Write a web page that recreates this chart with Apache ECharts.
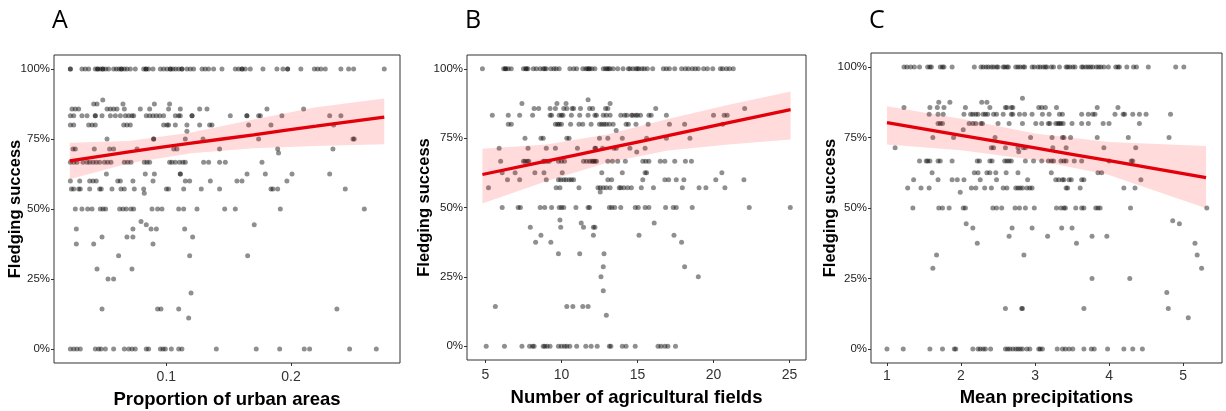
<!DOCTYPE html>
<html>
<head>
<meta charset="utf-8">
<script src="https://cdn.jsdelivr.net/npm/echarts@6/dist/echarts.min.js"></script>
<style>
html, body { margin: 0; padding: 0; background: #fff; }
#chart { width: 1226px; height: 411px; }
</style>
</head>
<body>
<div id="chart"></div>
<script>
// Each row: [fledging success %, [x values of the nests at that level]]
const urbanRows = [
    [100, [0.023,0.023,0.0323,0.035,0.0377,0.043,0.0449,0.0449,0.047,0.049,0.049,0.0513,0.0537,0.0577,0.0599,0.062,0.064,0.064,0.0663,0.0684,0.0711,0.0751,0.0818,0.0837,0.0837,0.0858,0.0893,0.0952,0.0978,0.1005,0.1032,0.1032,0.1053,0.1075,0.1099,0.1125,0.1125,0.1165,0.1192,0.1219,0.1286,0.1312,0.1339,0.1379,0.1446,0.1553,0.158,0.1607,0.1607,0.1633,0.1673,0.1775,0.1887,0.1935,0.1973,0.1973,0.2079,0.2187,0.2213,0.224,0.2275,0.24,0.2462,0.2502,0.2748]],
    [88.9, [0.049]],
    [87.5, [0.0417,0.0444,0.0652,0.0904,0.1026]],
    [85.7, [0.0243,0.027,0.0297,0.0524,0.0551,0.0577,0.0604,0.0663,0.0791,0.0866,0.1018,0.1112,0.1267,0.1326,0.1807,0.2101]],
    [83.3, [0.023,0.0257,0.0323,0.0364,0.043,0.043,0.0484,0.0551,0.0591,0.0631,0.0671,0.0698,0.0724,0.0738,0.0839,0.0866,0.0893,0.092,0.0947,0.0978,0.1072,0.1099,0.1112,0.1206,0.1206,0.1513,0.1646,0.1646,0.174,0.1754,0.1927,0.231,0.24]],
    [80, [0.023,0.0257,0.0377,0.0404,0.043,0.0658,0.0684,0.0711,0.0978,0.1005,0.1018,0.1072,0.1165,0.1267,0.1347,0.1366,0.166,0.1839,0.2342]],
    [77.8, [0.1165]],
    [75, [0.0524,0.0898,0.0898,0.1152,0.1294,0.174,0.2497,0.2507]],
    [71.4, [0.0251,0.027,0.0422,0.0545,0.0577,0.0765,0.1059,0.1085,0.1427,0.1893,0.2336]],
    [70, [0.19]],
    [66.7, [0.023,0.0257,0.0283,0.0331,0.0364,0.0385,0.0412,0.0438,0.0465,0.0503,0.0529,0.0556,0.0663,0.069,0.0716,0.0823,0.0845,0.0866,0.1026,0.1045,0.1072,0.1106,0.1133,0.1152,0.1299,0.1339,0.1427,0.1473,0.1767]],
    [62.5, [0.0519,0.0831,0.0904,0.1112,0.1112,0.1647,0.1794,0.2008,0.231]],
    [60, [0.023,0.0305,0.0385,0.0412,0.0438,0.061,0.0631,0.0732,0.0893,0.1152,0.1187,0.1353,0.1566,0.1607,0.1967]],
    [57.1, [0.0238,0.0257,0.0297,0.031,0.0385,0.0465,0.0478,0.0564,0.0636,0.0663,0.0743,0.0818,0.1,0.1018,0.1139,0.128,0.1427,0.1839,0.1855,0.1893,0.2435]],
    [55.6, [0.0823]],
    [50, [0.027,0.0323,0.0369,0.0404,0.047,0.0492,0.0513,0.0625,0.0652,0.0679,0.0716,0.0738,0.0885,0.093,0.0965,0.1099,0.1139,0.1246,0.1468,0.1553,0.1914,0.2588]],
    [45.5, [0.0797]],
    [44.4, [0.0839,0.1705]],
    [42.9, [0.0278,0.0732,0.0877,0.092,0.1147]],
    [40, [0.0484,0.0684,0.0732,0.1211]],
    [37.5, [0.0278,0.0417,0.0893]],
    [33.3, [0.0617,0.1187,0.1652]],
    [28.6, [0.0444,0.0724]],
    [25, [0.0532,0.0577]],
    [20, [0.1198]],
    [14.3, [0.0484,0.093,0.0957,0.1099,0.2368]],
    [11.1, [0.1179]],
    [0, [0.023,0.0257,0.0283,0.031,0.043,0.0457,0.0476,0.0511,0.0577,0.0663,0.0698,0.0724,0.0751,0.0839,0.0858,0.0952,0.0973,0.0992,0.104,0.1099,0.1125,0.1401,0.1721,0.1909,0.2106,0.2149,0.247,0.2684]]
];

const fieldRows = [
    [100, [4.8,6.2,6.3,6.35,6.5,6.7,7.5,7.65,7.7,7.8,8.15,8.35,8.6,8.8,8.9,9.0,9.3,9.5,9.65,9.85,10.55,10.8,11.0,11.4,11.6,11.7,11.8,11.85,12.0,12.2,12.75,12.9,13.0,13.1,13.2,13.4,13.7,14.05,14.4,14.5,14.7,14.9,15.0,15.1,15.3,15.45,15.65,16.0,16.7,16.9,17.1,17.45,17.9,18.15,18.35,18.6,18.8,19.0,19.35,19.6,19.95,20.45,20.6,20.85,21.05,21.3]],
    [88.9, [11.75]],
    [87.5, [7.4,9.7,10.3,13.2]],
    [85.7, [8.2,8.5,9.25,9.6,10.15,10.35,10.7,10.8,11.25,11.85,12.05,12.9,13.05,16.2,22.05]],
    [83.3, [5.45,6.5,7.25,8.1,9.25,9.35,9.85,10.0,10.1,10.65,11.2,11.75,12.2,12.3,12.75,12.95,13.2,13.9,14.15,14.3,14.6,14.7,14.9,15.0,15.2,15.75,15.9,16.9,20.0,20.7,20.9]],
    [80, [6.5,6.7,9.6,9.75,9.85,10.0,10.6,11.15,11.4,11.95,12.5,12.65,12.8,12.95,13.15,13.4,14.25,14.4,14.9,15.7,17.1,18.1,20.6]],
    [77.8, [13.6]],
    [75, [7.6,8.65,8.8,10.35,10.5,12.5,13.05,14.0,15.6,16.9,18.45]],
    [71.4, [5.9,7.8,9.0,9.6,11.05,12.2,12.25,12.7,13.45,13.6,14.5,15.5]],
    [70, [14.95]],
    [66.7, [6.0,7.5,7.6,7.75,7.85,8.8,8.9,9.05,9.2,9.8,10.0,10.2,11.45,11.65,11.85,12.0,12.1,12.2,12.3,13.05,13.35,13.7,14.2,15.35,15.55,15.75,16.5,16.8,17.45,18.15,18.55]],
    [62.5, [6.1,6.95,8.25,8.85,10.05,12.65,14.0,15.5,15.6,20.55]],
    [60, [6.45,7.25,9.0,9.8,9.95,10.15,10.3,10.5,10.65,10.8,13.05,13.3,15.35,16.8,17.05,17.55,18.05,20.15,22.0]],
    [57.1, [5.2,9.65,9.9,11.15,12.4,12.55,12.75,12.95,13.2,13.8,13.9,14.1,14.35,14.6,15.25,16.05,17.95,19.05,19.5,20.75]],
    [55.6, [12.55]],
    [50, [6.1,7.15,7.3,8.6,8.9,9.35,9.85,10.0,10.15,10.95,11.75,11.85,13.15,13.3,13.5,13.9,14.85,15.05,15.5,15.75,16.85,17.35,17.55,18.6,22.35,25.05]],
    [45.5, [9.9]],
    [44.4, [11.3,16.1]],
    [42.9, [7.95,9.95,11.45,12.1,12.2]],
    [40, [8.65,12.1,15.1,17.4]],
    [37.5, [8.3,9.3,17.9]],
    [33.3, [9.8,11.2,12.8]],
    [28.6, [12.75,18.1]],
    [25, [12.6,19.0]],
    [20, [12.75]],
    [14.3, [5.65,10.35,10.75,11.4,11.75]],
    [11.1, [12.95]],
    [0, [5.05,6.25,7.4,7.9,8.1,8.2,8.8,8.9,9.05,9.25,9.8,10.0,10.2,10.35,10.55,11.0,11.6,11.95,12.35,13.15,13.25,14.0,14.25,14.85,16.35,16.55,16.8,17.0,17.5]]
];

const rainRows = [
    [100, [1.23,1.27,1.32,1.37,1.44,1.55,1.58,1.6,1.72,1.75,1.77,1.88,2.18,2.27,2.3,2.34,2.37,2.41,2.44,2.48,2.5,2.57,2.59,2.62,2.64,2.74,2.77,2.8,2.84,2.86,2.96,2.99,3.04,3.07,3.11,3.14,3.16,3.22,3.25,3.33,3.42,3.44,3.47,3.51,3.54,3.63,3.65,3.69,3.72,3.75,3.78,3.83,3.86,3.89,3.93,3.99,4.09,4.12,4.14,4.24,4.33,4.37,4.53,4.9,5.01]],
    [88.9, [2.83]],
    [87.5, [1.7,1.85,2.28,2.35]],
    [85.7, [1.23,1.58,1.68,1.77,2.06,2.39,2.6,2.62,2.68,2.7,3.05,3.09,3.14,3.29,3.84,4.12]],
    [83.3, [1.57,1.69,1.76,2.04,2.13,2.16,2.2,2.23,2.3,2.33,2.36,2.44,2.48,2.57,2.68,2.7,2.79,2.86,2.96,3.1,3.19,3.33,3.37,3.63,3.72,3.78,3.81,4.08,4.19,4.21,4.32,4.41,4.5,4.83]],
    [80, [1.69,1.72,1.75,2.11,2.16,2.2,2.27,2.29,2.5,2.65,2.83,3.01,3.09,3.18,3.2,3.28,3.31,3.33,3.35,3.38,3.5,3.63,3.72,3.92,4.0,4.41]],
    [77.8, [2.03]],
    [75, [1.62,1.9,2.46,2.94,3.23,3.37,3.39,3.48,3.84,4.26,4.81]],
    [71.4, [1.11,2.41,2.44,2.6,2.77,2.84,2.87,3.24,3.42,3.93,4.36]],
    [70, [2.78]],
    [66.7, [1.44,1.53,1.55,1.58,1.69,1.72,1.88,2.22,2.25,2.39,2.42,2.59,2.62,2.65,2.68,2.87,2.98,3.09,3.18,3.22,3.25,3.35,3.39,3.42,3.53,3.63,4.0,4.3,4.32]],
    [62.5, [1.61,2.18,2.23,2.35,2.39,2.47,2.61,2.77,3.22,3.85,3.9]],
    [60, [1.36,1.69,1.88,1.95,2.04,2.26,2.48,2.9,3.28,3.32,3.37,3.39,3.46,3.49,3.63,3.66,4.43]],
    [57.1, [1.28,1.46,1.57,2.14,2.2,2.32,2.41,2.57,2.62,2.74,2.77,2.8,2.83,2.89,2.93,2.96,3.42,3.44,3.61,4.2,4.35]],
    [55.6, [1.99]],
    [50, [1.35,1.7,1.75,1.84,2.03,2.06,2.43,2.48,2.55,2.73,2.79,2.87,2.99,3.29,3.35,3.39,3.41,3.55,3.63,3.66,3.82,3.85,3.88,4.29,5.32]],
    [45.5, [4.86]],
    [44.4, [2.07,4.95]],
    [42.9, [2.16,2.69,2.96,3.36,3.5]],
    [40, [2.65,3.17,3.77,3.97]],
    [37.5, [2.22,3.56,5.16]],
    [33.3, [1.67,2.85,5.19]],
    [28.6, [1.62,5.25]],
    [25, [3.77,4.28]],
    [20, [4.78]],
    [14.3, [2.6,2.82,2.83,3.66,4.8]],
    [11.1, [5.07]],
    [0, [1.0,1.22,1.58,1.75,1.91,1.93,2.16,2.23,2.26,2.3,2.33,2.4,2.6,2.63,2.66,2.7,2.74,2.77,2.8,2.83,2.89,2.93,3.05,3.07,3.1,3.3,3.37,3.41,3.46,3.51,3.66,3.76,3.8,3.98,4.2,4.32,4.45]]
];

// fitted curves with 95% band
const urbanFitX = [0.0225, 0.07, 0.12, 0.17, 0.22, 0.2748];
const urbanFit = [67.2, 70.4, 73.5, 76.5, 79.6, 82.8];
const urbanLo = [60.6, 66.3, 69.9, 71.7, 72.5, 73.1];
const urbanHi = [73.7, 74.3, 77.3, 82.0, 86.3, 89.5];

const fieldFitX = [4.8, 9, 13, 17, 21, 25.07];
const fieldFit = [61.9, 66.7, 71.3, 75.9, 80.6, 85.3];
const fieldLo = [51.4, 59.5, 66.1, 70.6, 72.7, 74.5];
const fieldHi = [71.2, 72.7, 76.3, 81.9, 87.1, 91.8];

const rainFitX = [1.0, 2, 3, 4, 5.31];
const rainFit = [80.3, 75.8, 71.3, 66.8, 60.8];
const rainLo = [72.5, 70.5, 67.0, 61.7, 49.9];
const rainHi = [86.1, 81.7, 76.4, 73.4, 72.0];

const yTicks = [0, 25, 50, 75, 100];
const urbanTicks = [0.1, 0.2];
const fieldTicks = [5, 10, 15, 20, 25];
const rainTicks = [1, 2, 3, 4, 5];

const panels = [
    { letter: 'A', rows: urbanRows, fitX: urbanFitX, fit: urbanFit, lo: urbanLo, hi: urbanHi, ticks: urbanTicks,
      xName: 'Proportion of urban areas', grid: { left: 54, top: 55, width: 346, height: 308 }, yGap: 30, xGap: 27, xMargin: 7 },
    { letter: 'B', rows: fieldRows, fitX: fieldFitX, fit: fieldFit, lo: fieldLo, hi: fieldHi, ticks: fieldTicks,
      xName: 'Number of agricultural fields', grid: { left: 467, top: 55, width: 339, height: 305 }, yGap: 34, xGap: 28, xMargin: 8 },
    { letter: 'C', rows: rainRows, fitX: rainFitX, fit: rainFit, lo: rainLo, hi: rainHi, ticks: rainTicks,
      xName: 'Mean precipitations', grid: { left: 871, top: 53, width: 351, height: 310 }, yGap: 32, xGap: 25, xMargin: 6 }
];

const toPoints = rows => {
    const pts = [];
    rows.forEach(([y, xs]) => xs.forEach(x => pts.push([x, y])));
    return pts;
};

const FONT = 'Liberation Sans, Arial, sans-serif';
const titles = [], grids = [], xAxes = [], yAxes = [], series = [];

panels.forEach((p, i) => {
    // ggplot-style 5% expansion of the data range
    const xMin = p.fitX[0], xMax = p.fitX[p.fitX.length - 1];
    const padX = (xMax - xMin) * 0.05;

    titles.push({
        text: p.letter, left: p.grid.left - 2, top: 8, padding: 0,
        textStyle: { fontSize: 25, fontWeight: 'normal', color: '#000', fontFamily: 'Open Sans, sans-serif' }
    });
    grids.push(Object.assign({ show: true, borderColor: '#333', borderWidth: 1, backgroundColor: 'transparent', containLabel: false, outerBoundsMode: 'none' }, p.grid));

    xAxes.push({
        gridIndex: i, type: 'value', min: xMin - padX, max: xMax + padX,
        axisLine: { show: false, onZero: false },
        splitLine: { show: false },
        axisTick: { show: true, length: 3, customValues: p.ticks, lineStyle: { color: '#333' } },
        axisLabel: { customValues: p.ticks, margin: p.xMargin, color: '#333', fontSize: 14, fontFamily: FONT },
        name: p.xName, nameLocation: 'middle', nameGap: p.xGap, nameMoveOverlap: false,
        nameTextStyle: { fontSize: 18.5, fontWeight: 'bold', color: '#000', fontFamily: FONT }
    });
    yAxes.push({
        gridIndex: i, type: 'value', min: -5, max: 105,
        axisLine: { show: false, onZero: false },
        splitLine: { show: false },
        axisTick: { show: true, length: 3, customValues: yTicks, lineStyle: { color: '#333' } },
        axisLabel: { customValues: yTicks, margin: 4, formatter: '{value}%', color: '#222', fontSize: 11.5, fontFamily: FONT },
        name: 'Fledging success', nameLocation: 'middle', nameRotate: 90, nameGap: p.yGap, nameMoveOverlap: false,
        nameTextStyle: { fontSize: 16.5, fontWeight: 'bold', color: '#000', fontFamily: FONT }
    });

    series.push({
        type: 'scatter', xAxisIndex: i, yAxisIndex: i, data: toPoints(p.rows),
        symbolSize: 5, itemStyle: { color: 'rgba(0,0,0,0.55)' }, z: 2, silent: true
    });
    series.push({
        type: 'custom', xAxisIndex: i, yAxisIndex: i, silent: true, z: 3,
        data: [[p.fitX[0], p.fit[0]]],
        renderItem: (params, api) => {
            const upper = p.fitX.map((x, k) => api.coord([x, p.hi[k]]));
            const lower = p.fitX.map((x, k) => api.coord([x, p.lo[k]])).reverse();
            return { type: 'polygon', shape: { points: upper.concat(lower) }, style: { fill: 'rgba(255,0,0,0.14)' } };
        }
    });
    series.push({
        type: 'line', xAxisIndex: i, yAxisIndex: i, silent: true, z: 4,
        data: p.fitX.map((x, k) => [x, p.fit[k]]),
        smooth: true, showSymbol: false, symbol: 'none',
        lineStyle: { color: '#e3000b', width: 3.3 }
    });
});

const chart = echarts.init(document.getElementById('chart'), null, { renderer: 'canvas' });
chart.setOption({
    animation: false,
    backgroundColor: '#fff',
    title: titles,
    grid: grids,
    xAxis: xAxes,
    yAxis: yAxes,
    series: series
});
</script>
</body>
</html>
